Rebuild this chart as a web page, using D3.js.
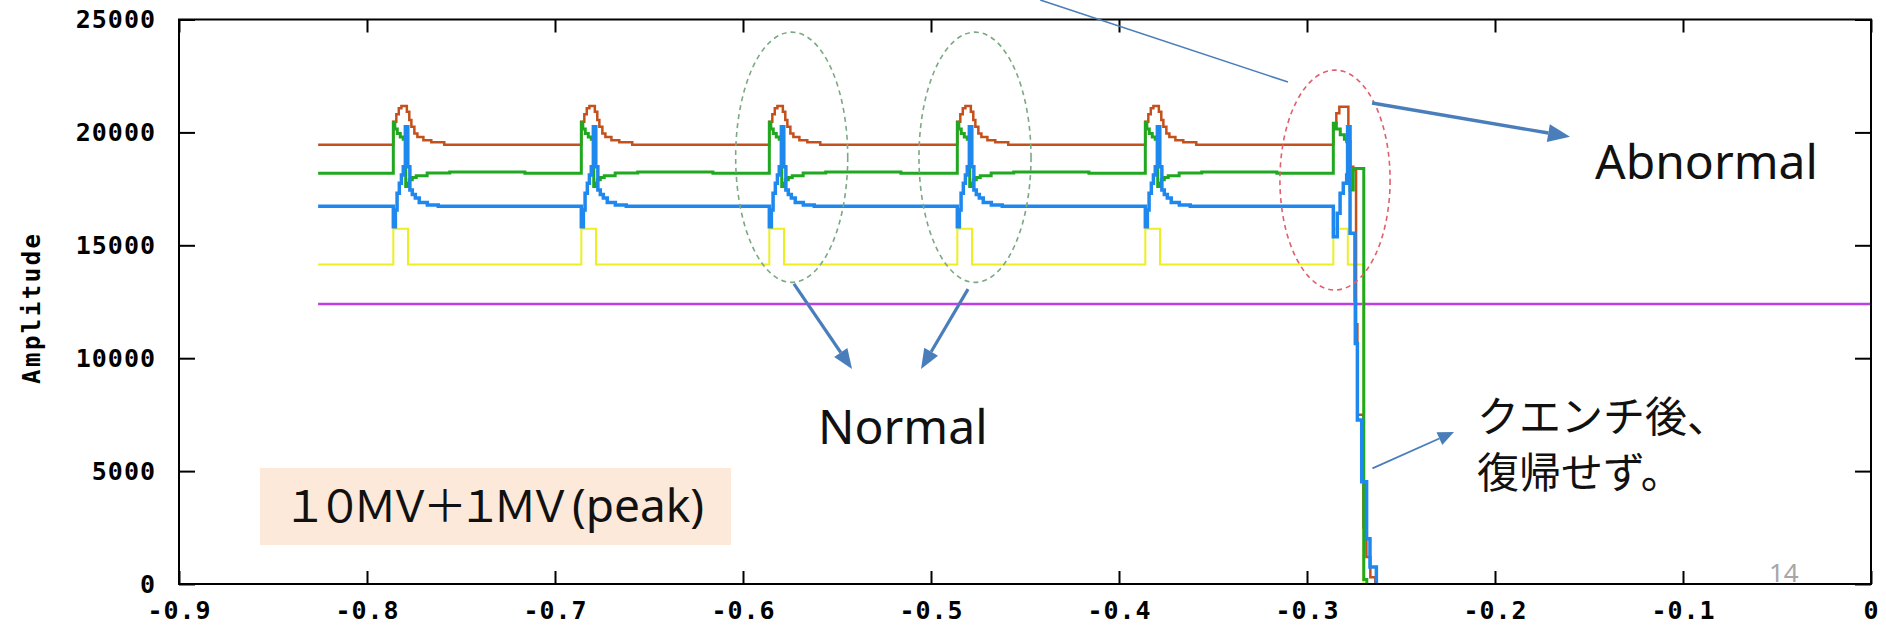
<!DOCTYPE html>
<html lang="ja">
<head>
<meta charset="UTF-8">
<title>Amplitude 10MV+1MV(peak)</title>
<style>
  html, body { margin: 0; padding: 0; background: #fff; }
  svg { display: block; }
  .tick text, .axlabel { font-family: "DejaVu Sans Mono", monospace; font-weight: bold; fill: #000; }
  .tick text { font-size: 25px; letter-spacing: 1px; }
  .note { font-family: "Noto Sans", sans-serif; fill: #111; }
  .jp { font-family: "Noto Sans CJK JP", sans-serif; fill: #111; }
</style>
</head>
<body>
<svg width="1886" height="630"></svg>
<script src="https://d3js.org/d3.v7.min.js"></script>
<script>
// ---- data ----
const xTicks = [-0.9, -0.8, -0.7, -0.6, -0.5, -0.4, -0.3, -0.2, -0.1, 0];
const yTicks = [0, 5000, 10000, 15000, 20000, 25000];

const seriesStart = -0.826;
const pulseStarts = [-0.786, -0.686, -0.586, -0.486, -0.386];
const quenchPulse = -0.286;

// pulse shapes: [offset from pulse start, amplitude]
const brownBase = 19450;
const brownPulse = [[0, 20470], [0.0016, 20800], [0.0029, 21070], [0.0043, 21170], [0.0072, 20920],
  [0.0085, 20550], [0.0096, 20250], [0.0112, 19950], [0.0128, 19800], [0.016, 19650], [0.0202, 19560], [0.0271, 19450]];
const brownQuench = [[0, 20400], [0.0016, 20850], [0.0032, 21140], [0.008, 20250], [0.0085, 18480],
  [0.0106, 18330], [0.0121, 11500], [0.0128, 7500], [0.016, 2500], [0.0176, 1200], [0.0197, 300], [0.0223, 0]];

const greenBase = 18190;
const greenPulse = [[0, 20450], [0.0008, 20150], [0.0021, 19950], [0.0037, 19800], [0.0053, 19700], [0.0066, 17600],
  [0.0077, 17750], [0.0085, 17900], [0.0101, 18000], [0.0122, 18080], [0.018, 18200], [0.03, 18250], [0.07, 18190]];
const greenQuench = [[0, 20400], [0.0016, 20150], [0.0037, 19900], [0.0059, 19700], [0.0071, 19590],
  [0.0089, 17450], [0.0106, 18400], [0.0162, 200], [0.0178, 0]];

const blueBase = 16730;
const bluePulse = [[0, 15820], [0.0011, 16560], [0.002, 17300], [0.0032, 17750], [0.0043, 18110], [0.0053, 18480],
  [0.0064, 20250], [0.0077, 18480], [0.0088, 17450], [0.0101, 17250], [0.0117, 17100], [0.0138, 16900],
  [0.0181, 16780], [0.0239, 16730]];
const blueQuench = [[0, 15380], [0.0021, 16420], [0.0036, 17300], [0.0053, 17750], [0.0071, 18110], [0.0076, 20250],
  [0.0089, 15530], [0.0115, 12580], [0.0117, 10650], [0.0128, 7260], [0.0151, 4530], [0.0177, 2000],
  [0.0195, 750], [0.0229, 0]];

const yellowBase = 14150;
const yellowPulse = [[0, 15730], [0.0078, 14150]];
const yellowQuench = [[0, 15730], [0.0077, 14150], [0.0160, 0]];

const purpleLevel = 12400;

const seriesColors = { purple: "#bf3de6", yellow: "#eeee22", brown: "#c4501c", green: "#20a820", blue: "#1e88ee" };
const seriesWidths = { purple: 2.5, yellow: 2, brown: 2.5, green: 3, blue: 3.5 };

// ---- layout ----
const width = 1886, height = 630;
const margin = { left: 179, right: 15, top: 19.5, bottom: 46 };

const x = d3.scaleLinear().domain([-0.9, 0]).range([margin.left, width - margin.right]);
const y = d3.scaleLinear().domain([0, 25000]).range([height - margin.bottom, margin.top]);

const svg = d3.select("svg").attr("width", width).attr("height", height);

function buildSeries(base, pulse, quench) {
  const pts = [[seriesStart, base]];
  pulseStarts.forEach(p => pulse.forEach(([dx, v]) => pts.push([p + dx, v])));
  quench.forEach(([dx, v]) => pts.push([quenchPulse + dx, v]));
  return pts;
}

const series = [
  { key: "purple", values: [[seriesStart, purpleLevel], [0, purpleLevel]] },
  { key: "yellow", values: buildSeries(yellowBase, yellowPulse, yellowQuench) },
  { key: "brown", values: buildSeries(brownBase, brownPulse, brownQuench) },
  { key: "green", values: buildSeries(greenBase, greenPulse, greenQuench) },
  { key: "blue", values: buildSeries(blueBase, bluePulse, blueQuench) }
];

const line = d3.line()
  .x(d => x(d[0]))
  .y(d => y(d[1]))
  .curve(d3.curveStepAfter);

svg.append("g")
  .selectAll("path")
  .data(series)
  .join("path")
  .attr("fill", "none")
  .attr("stroke", d => seriesColors[d.key])
  .attr("stroke-width", d => seriesWidths[d.key])
  .attr("d", d => line(d.values));

// ---- axes (gnuplot style: inward ticks on all four sides) ----
const fmtX = d => d === 0 ? "0" : d.toFixed(1);
const tickLen = 13;

svg.append("g")
  .attr("transform", `translate(0,${y(0)})`)
  .call(d3.axisBottom(x).tickValues(xTicks).tickSizeInner(-tickLen).tickSizeOuter(0).tickPadding(17).tickFormat(fmtX))
  .call(g => g.select(".domain").remove());

svg.append("g")
  .attr("transform", `translate(0,${y(25000)})`)
  .call(d3.axisTop(x).tickValues(xTicks).tickSizeInner(-tickLen).tickSizeOuter(0).tickFormat(""))
  .call(g => g.select(".domain").remove());

svg.append("g")
  .attr("transform", `translate(${x(-0.9)},0)`)
  .call(d3.axisLeft(y).tickValues(yTicks).tickSizeInner(-16).tickSizeOuter(0).tickPadding(23).tickFormat(d3.format("d")))
  .call(g => g.select(".domain").remove());

svg.append("g")
  .attr("transform", `translate(${x(0)},0)`)
  .call(d3.axisRight(y).tickValues(yTicks).tickSizeInner(-16).tickSizeOuter(0).tickFormat(""))
  .call(g => g.select(".domain").remove());

svg.selectAll(".tick line").attr("stroke", "#000").attr("stroke-width", 2);
svg.selectAll(".tick text").attr("fill", "#000");

svg.append("rect")
  .attr("x", x(-0.9)).attr("y", y(25000))
  .attr("width", x(0) - x(-0.9)).attr("height", y(0) - y(25000))
  .attr("fill", "none").attr("stroke", "#000").attr("stroke-width", 2);

svg.append("text")
  .attr("class", "axlabel")
  .attr("transform", `translate(40,${(y(0) + y(25000)) / 2 + 6}) rotate(-90)`)
  .attr("text-anchor", "middle")
  .attr("font-size", 24)
  .attr("letter-spacing", 2.5)
  .text("Amplitude");

// ---- annotations ----
const ellipses = [
  { cx: -0.5741, cy: 18900, rx: 0.0298, ry: 5540, color: "#7aa983" },
  { cx: -0.4766, cy: 18900, rx: 0.0298, ry: 5540, color: "#7aa983" },
  { cx: -0.2851, cy: 17890, rx: 0.0293, ry: 4870, color: "#e0606e" }
];
svg.append("g")
  .selectAll("ellipse")
  .data(ellipses)
  .join("ellipse")
  .attr("cx", d => x(d.cx))
  .attr("cy", d => y(d.cy))
  .attr("rx", d => x(d.cx + d.rx) - x(d.cx))
  .attr("ry", d => y(d.cy - d.ry) - y(d.cy))
  .attr("fill", "none")
  .attr("stroke", d => d.color)
  .attr("stroke-width", 1.6)
  .attr("stroke-dasharray", "5,4");

const arrowColor = "#4a7ebb";
// [x1, amp1, x2, amp2, width, head length, head half-width]
const arrows = [
  [-0.5729, 13290, -0.5420, 9520, 3.2, 20, 8],
  [-0.4803, 13060, -0.5053, 9520, 3.2, 20, 8],
  [-0.2654, 21300, -0.1601, 19810, 3.4, 22, 9],
  [-0.2652, 5120, -0.2218, 6730, 1.8, 16, 7]
];
const ag = svg.append("g");
arrows.forEach(([a, b, c, d, w, hl, hw]) => {
  const x1 = x(a), y1 = y(b), x2 = x(c), y2 = y(d);
  const ang = Math.atan2(y2 - y1, x2 - x1);
  const bx = x2 - hl * Math.cos(ang), by = y2 - hl * Math.sin(ang);
  ag.append("line")
    .attr("x1", x1).attr("y1", y1).attr("x2", bx).attr("y2", by)
    .attr("stroke", arrowColor).attr("stroke-width", w);
  const px = -Math.sin(ang) * hw, py = Math.cos(ang) * hw;
  ag.append("path")
    .attr("d", `M${x2},${y2}L${bx + px},${by + py}L${bx - px},${by - py}Z`)
    .attr("fill", arrowColor);
});
// thin pointer coming in from above the frame
ag.append("line")
  .attr("x1", x(-0.4419)).attr("y1", 0)
  .attr("x2", x(-0.3101)).attr("y2", y(22230))
  .attr("stroke", arrowColor).attr("stroke-width", 1.6);

svg.append("text").attr("class", "note")
  .attr("x", x(-0.5601)).attr("y", y(6200))
  .attr("font-size", 48).text("Normal");

svg.append("text").attr("class", "note")
  .attr("x", x(-0.1468)).attr("y", y(17930))
  .attr("font-size", 48).text("Abnormal");

const jp = svg.append("text").attr("class", "jp").attr("font-size", 42);
jp.append("tspan").attr("x", x(-0.2096)).attr("y", y(6730)).text("クエンチ後、");
jp.append("tspan").attr("x", x(-0.2096)).attr("y", y(4250)).text("復帰せず。");

svg.append("rect")
  .attr("x", x(-0.8569)).attr("y", y(5137))
  .attr("width", x(-0.6064) - x(-0.8569)).attr("height", y(1727) - y(5137))
  .attr("fill", "#fde9d9");

const box = svg.append("text").attr("x", x(-0.8447)).attr("y", y(2746)).attr("fill", "#111");
box.append("tspan").attr("font-family", "'Noto Sans CJK JP', sans-serif").attr("font-size", 44)
  .attr("letter-spacing", -9).text("１０ＭＶ＋１ＭＶ");
box.append("tspan").attr("font-family", "'Noto Sans', sans-serif").attr("font-size", 46)
  .attr("letter-spacing", 0).attr("dx", 9).text("(peak)");

svg.append("text")
  .attr("x", 1769).attr("y", 582)
  .attr("font-family", "'Noto Sans', sans-serif")
  .attr("font-size", 26).attr("fill", "#a6a6a6")
  .text("14");
</script>
</body>
</html>
